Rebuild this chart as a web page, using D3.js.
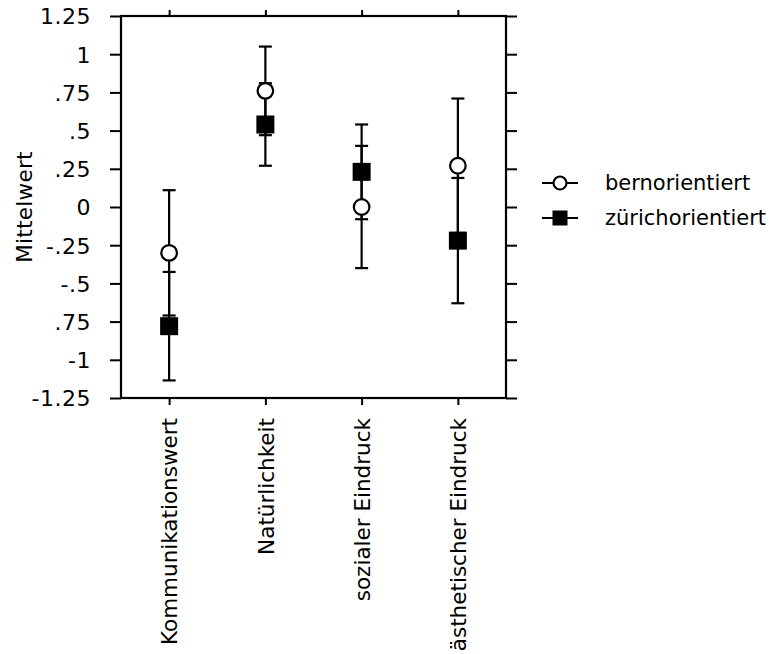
<!DOCTYPE html>
<html>
<head>
<meta charset="utf-8">
<script src="https://cdn.jsdelivr.net/npm/d3@7"></script>
<style>
  html, body { margin: 0; padding: 0; background: #fff; }
  svg { display: block; }
  text { font-family: "DejaVu Sans", sans-serif; fill: #000; }
</style>
</head>
<body>
<svg id="chart" width="776" height="654"></svg>
<script>
// Mean ratings per dimension, with error bar half-widths
const categories = ["Kommunikationswert", "Natürlichkeit", "sozialer Eindruck", "ästhetischer Eindruck"];
const bernMean = [-0.30, 0.76, 0.00, 0.27];
const bernErr = [0.41, 0.29, 0.40, 0.44];
const zurichMean = [-0.78, 0.54, 0.23, -0.22];
const zurichErr = [0.355, 0.27, 0.31, 0.41];
const yTicks = [1.25, 1, 0.75, 0.5, 0.25, 0, -0.25, -0.5, -0.75, -1, -1.25];
const yTickLabels = ["1.25", "1", ".75", ".5", ".25", "0", "-.25", "-.5", ".75", "-1", "-1.25"];
const seriesNames = ["bernorientiert", "zürichorientiert"];

const svg = d3.select("#chart");
const plotL = 121, plotR = 506, plotT = 16, plotB = 398;

const x = d3.scalePoint().domain(categories).range([plotL, plotR]).padding(0.5);
const y = d3.scaleLinear().domain([-1.25, 1.25]).range([plotB, plotT]);

const labelOf = d => yTickLabels[yTicks.indexOf(d)];

// Axes on all four sides, ticks pointing outward
const gL = svg.append("g").attr("transform", `translate(${plotL},0)`)
  .call(d3.axisLeft(y).tickValues(yTicks).tickFormat(labelOf).tickSize(11).tickPadding(19));
const gR = svg.append("g").attr("transform", `translate(${plotR},0)`)
  .call(d3.axisRight(y).tickValues(yTicks).tickFormat("").tickSize(11));
const gT = svg.append("g").attr("transform", `translate(0,${plotT})`)
  .call(d3.axisTop(x).tickFormat("").tickSize(6));
const gB = svg.append("g").attr("transform", `translate(0,${plotB})`)
  .call(d3.axisBottom(x).tickSize(7).tickPadding(12));

[gL, gR, gT, gB].forEach(g => {
  g.select(".domain").remove();
  g.selectAll(".tick line").attr("stroke", "#000").attr("stroke-width", 2);
});
gL.selectAll(".tick text")
  .attr("font-family", "DejaVu Sans, sans-serif")
  .attr("font-size", 22).attr("letter-spacing", 0.5).attr("dy", "0.36em");
gB.selectAll(".tick text")
  .attr("font-family", "DejaVu Sans, sans-serif")
  .attr("font-size", 21.5)
  .attr("text-anchor", "end")
  .attr("transform", "rotate(-90)")
  .attr("x", -20).attr("y", 0).attr("dy", "0.36em");

// Plot frame
svg.append("rect")
  .attr("x", plotL).attr("y", plotT)
  .attr("width", plotR - plotL).attr("height", plotB - plotT)
  .attr("fill", "none").attr("stroke", "#000").attr("stroke-width", 2.2);

// Y axis title
svg.append("text")
  .attr("transform", `translate(32,${y(0)}) rotate(-90)`)
  .attr("text-anchor", "middle")
  .attr("font-size", 21.5).attr("letter-spacing", 0.3)
  .text("Mittelwert");

const capW = 6.5;
function errorBars(means, errs) {
  const g = svg.append("g").attr("stroke", "#000").attr("stroke-width", 2.2);
  categories.forEach((c, i) => {
    const cx = x(c), lo = y(means[i] - errs[i]), hi = y(means[i] + errs[i]);
    g.append("line").attr("x1", cx).attr("x2", cx).attr("y1", lo).attr("y2", hi);
    g.append("line").attr("x1", cx - capW).attr("x2", cx + capW).attr("y1", lo).attr("y2", lo);
    g.append("line").attr("x1", cx - capW).attr("x2", cx + capW).attr("y1", hi).attr("y2", hi);
  });
}
errorBars(bernMean, bernErr);
errorBars(zurichMean, zurichErr);

// Markers
svg.append("g").selectAll("circle").data(categories).join("circle")
  .attr("cx", d => x(d)).attr("cy", (d, i) => y(bernMean[i])).attr("r", 7.8)
  .attr("fill", "#fff").attr("stroke", "#000").attr("stroke-width", 2.2);
const sq = 18;
svg.append("g").selectAll("rect").data(categories).join("rect")
  .attr("x", d => x(d) - sq / 2).attr("y", (d, i) => y(zurichMean[i]) - sq / 2)
  .attr("width", sq).attr("height", sq).attr("fill", "#000");

// Legend
const leg = svg.append("g").attr("transform", "translate(542,183)");
seriesNames.forEach((name, i) => {
  const row = leg.append("g").attr("transform", `translate(0,${i * 35})`);
  row.append("line").attr("x1", 0).attr("x2", 36).attr("y1", 0).attr("y2", 0)
    .attr("stroke", "#000").attr("stroke-width", 2.2);
  if (i === 0) {
    row.append("circle").attr("cx", 18).attr("cy", 0).attr("r", 6.5)
      .attr("fill", "#fff").attr("stroke", "#000").attr("stroke-width", 2.2);
  } else {
    row.append("rect").attr("x", 18 - 7.5).attr("y", -7.5).attr("width", 15).attr("height", 15)
      .attr("fill", "#000");
  }
  row.append("text").attr("x", 63).attr("dy", "0.35em")
    .attr("font-size", 21)
    .text(name);
});
</script>
</body>
</html>
